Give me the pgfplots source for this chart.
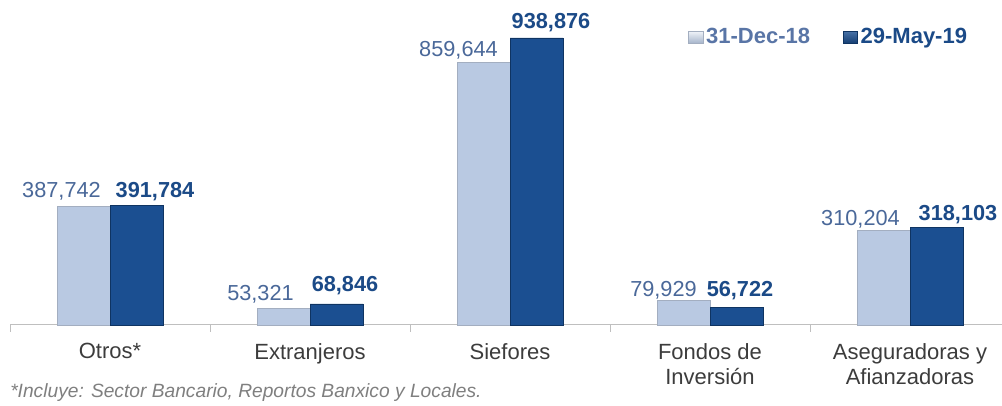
\documentclass[border=0pt]{standalone}
\usepackage{pgfplots}
\pgfplotsset{compat=1.18}
\usepackage{pgfplotstable}
\usepackage{fontspec}
\setmainfont{Liberation Sans}
\definecolor{lbarM}{HTML}{B9C9E2}
\definecolor{lbarE}{HTML}{A3AEC0}
\definecolor{dbarM}{HTML}{1B4F91}
\definecolor{dbarE}{HTML}{0F3462}
\definecolor{ltext}{HTML}{4A6899}
\definecolor{dtext}{HTML}{1B4A87}
\definecolor{legl}{HTML}{5975A6}
\definecolor{cattext}{HTML}{3C3C3C}
\definecolor{notetext}{HTML}{7F7F7F}
\definecolor{axisgray}{HTML}{BFBFBF}
\pgfplotstableread{
cat light dark ldx ldy ddx ddy
0 387742 391784 -22 8.6 18.5 7.3
1 53321 68846 -23 7.8 8.5 12.1
2 859644 938876 -25 5.3 14.5 9.1
3 79929 56722 -20 3.7 3.5 10.8
4 310204 318103 -23 4.3 21.5 6.9
}\datatable
\begin{document}
\begin{tikzpicture}
\path[use as bounding box] (-7.5pt,-60.75pt) rectangle (744pt,243.75pt);
\begin{axis}[
  at={(0pt,0pt)}, anchor=south west,
  scale only axis, width=744pt, height=243.75pt,
  xmin=-0.5, xmax=4.46, ymin=0, ymax=1063000,
  axis y line=none, axis x line*=bottom,
  x axis line style={-, draw=axisgray, line width=0.75pt},
  xtick={0,1,2,3,4},
  xticklabels={Otros*, Extranjeros, Siefores, {Fondos de\\Inversión}, {Aseguradoras y\\Afianzadoras}},
  minor xtick={-0.5,0.5,1.5,2.5,3.5},
  major tick length=0pt, minor tick length=5pt,
  tick align=outside,
  minor tick style={draw=axisgray, line width=0.75pt},
  xticklabel style={align=center, anchor=north, inner sep=0pt, yshift=-13.5pt,
    font=\fontsize{16.5pt}{18.75pt}\selectfont, text=cattext},
  clip=false,
  legend columns=2,
  legend style={draw=none, fill=none, at={(axis description cs:0.6835,0.886)}, anchor=west,
    inner sep=0pt, font=\fontsize{16.5pt}{18pt}\selectfont\bfseries,
    nodes={inner sep=2pt},
    /tikz/every even column/.append style={column sep=22.5pt}},
  legend cell align=left,
]
\addplot[ybar, bar width=0.265, bar shift=-0.1325, draw=lbarE, line width=0.5pt, fill=lbarM,
  legend image code/.code={\draw[draw=lbarE, line width=0.4pt, top color=white!80!lbarM, bottom color=lbarM!90!black] (0pt,-4.5pt) rectangle (11pt,4.5pt);}]
  table[x=cat, y=light] {\datatable};
\addlegendentry{\textcolor{legl}{31-Dec-18}}
\addplot[ybar, bar width=0.265, bar shift=0.1325, draw=dbarE, line width=0.5pt, fill=dbarM,
  legend image code/.code={\draw[draw=dbarE, line width=0.4pt, top color=dbarM!80!white, bottom color=dbarM!80!black] (0pt,-4.5pt) rectangle (11pt,4.5pt);}]
  table[x=cat, y=dark] {\datatable};
\addlegendentry{\textcolor{dtext}{29-May-19}}
% value labels
\addplot[forget plot, draw=none, mark=none, point meta=y,
  visualization depends on={\thisrow{ldy} \as \vdy},
  nodes near coords={\pgfmathprintnumber[fixed,precision=0,1000 sep={,},assume math mode=true]{\pgfplotspointmeta}},
  nodes near coords style={anchor=base, inner sep=0pt, yshift=\vdy*0.75pt,
    font=\fontsize{16.3pt}{18pt}\selectfont, text=ltext}]
  table[x expr=\thisrow{cat}-0.1325+\thisrow{ldx}/200, y=light] {\datatable};
\addplot[forget plot, draw=none, mark=none, point meta=y,
  visualization depends on={\thisrow{ddy} \as \vdy},
  nodes near coords={\pgfmathprintnumber[fixed,precision=0,1000 sep={,},assume math mode=true]{\pgfplotspointmeta}},
  nodes near coords style={anchor=base, inner sep=0pt, yshift=\vdy*0.75pt,
    font=\fontsize{16.3pt}{18pt}\selectfont\bfseries, text=dtext}]
  table[x expr=\thisrow{cat}+0.1325+\thisrow{ddx}/200, y=dark] {\datatable};
\end{axis}
\node[anchor=base west, inner sep=0pt, text=notetext, font=\fontsize{14.4pt}{16pt}\selectfont\itshape] at (0pt,-54.75pt) {*Incluye: Sector Bancario, Reportos Banxico y Locales.};
\end{tikzpicture}
\end{document}
